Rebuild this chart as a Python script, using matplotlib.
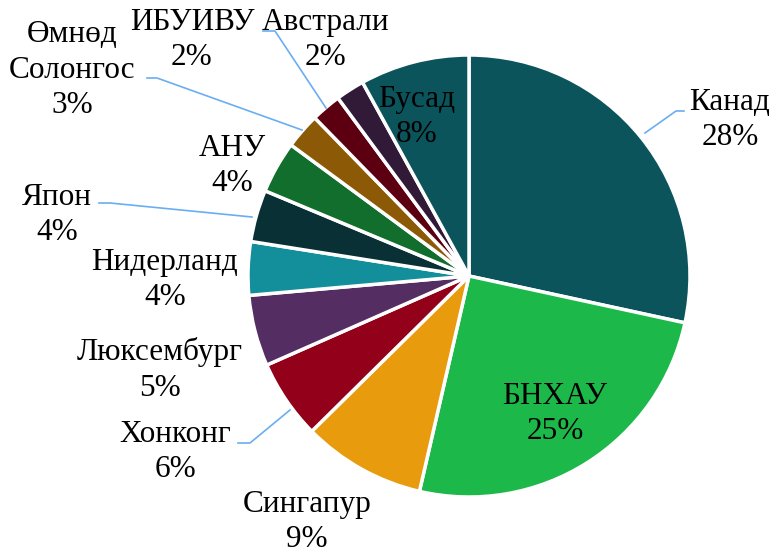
import matplotlib
matplotlib.use('Agg')
import matplotlib.pyplot as plt

# share of total by country (%), clockwise from 12 o'clock
countries = ['Канад', 'БНХАУ', 'Сингапур', 'Хонконг', 'Люксембург', 'Нидерланд',
             'Япон', 'АНУ', 'Өмнөд\nСолонгос', 'ИБУИВУ', 'Австрали', 'Бусад']
shares = [28.4, 25.2, 9.0, 5.8, 5.2, 3.9, 3.8, 3.8, 2.6, 2.2, 2.1, 8.0]
pct_labels = ['28%', '25%', '9%', '6%', '5%', '4%', '4%', '4%', '3%', '2%', '2%', '8%']

colors = ['#0b545c', '#1db84a', '#e89b0c', '#930019', '#542d62', '#138f9b',
          '#083035', '#116e2c', '#8c5a06', '#5c0011', '#301a38', '#0b545c']

plt.rcParams['font.family'] = ['Liberation Serif', 'DejaVu Serif']

W, H = 781, 555
cx, cy, r = 469, 276, 221   # pie centre / radius in pixels

fig = plt.figure(figsize=(W / 100, H / 100), dpi=100)
ax = fig.add_axes([(cx - r) / W, (H - cy - r) / H, 2 * r / W, 2 * r / H])
ax.pie(shares, colors=colors, startangle=90, counterclock=False, radius=1,
       wedgeprops=dict(edgecolor='white', linewidth=2.5))
ax.set_xlim(-1, 1)
ax.set_ylim(-1, 1)
ax.axis('off')


def to_data(px, py):
    return (px - cx) / r, (cy - py) / r


# label centres in pixels (layout only)
label_pos = [(730, 120), (555, 414), (307, 522), (175, 452), (160, 370), (165, 280),
             (57, 215), (232, 166), (72, 70), (192, 40), (326, 40), (417, 117)]

for name, pct, (px, py) in zip(countries, pct_labels, label_pos):
    x, y = to_data(px, py)
    ax.text(x, y, name + '\n' + pct, ha='center', va='center', fontsize=22.5,
            linespacing=1.3, clip_on=False)

# leader lines (pixel paths)
leaders = [
    [(645, 133), (676, 111), (684, 111)],
    [(290, 410), (250, 443), (238, 443)],
    [(252, 217), (110, 203), (99, 203)],
    [(302, 130), (157, 78), (147, 78)],
    [(326, 108), (275, 31), (263, 31)],
]
for path in leaders:
    pts = [to_data(px, py) for px, py in path]
    ax.plot([p[0] for p in pts], [p[1] for p in pts], color='#6aaef2',
            linewidth=1.2, clip_on=False)

fig.savefig('out.png', dpi=100)
